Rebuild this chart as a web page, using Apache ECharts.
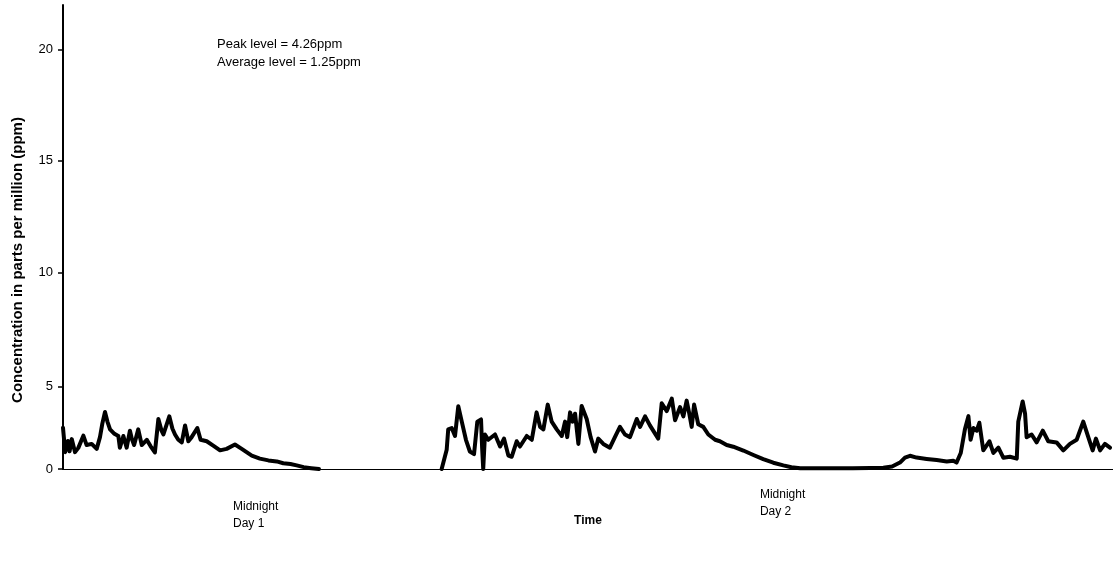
<!DOCTYPE html>
<html>
<head>
<meta charset="utf-8">
<script src="https://cdn.jsdelivr.net/npm/echarts@6/dist/echarts.min.js"></script>
<style>
html,body{margin:0;padding:0;background:#fff;}
#chart{width:1113px;height:563px;}
</style>
</head>
<body>
<div id="chart"></div>
<script>
// Hours since start of recording (start ~16:00, midnight Day 1 ~ hour 8)
const hours = [
0.00,0.10,0.22,0.30,0.40,0.55,0.70,0.93,1.08,1.31,1.54,1.69,1.80,1.92,2.03,2.15,2.35,2.53,2.60,2.76,2.91,3.06,3.15,3.25,3.44,3.60,3.83,4.00,4.20,4.36,4.50,4.59,4.86,5.00,5.12,5.27,5.43,5.58,5.73,5.88,6.14,6.29,6.57,6.90,7.18,7.48,7.86,8.17,8.63,9.00,9.39,9.77,10.07,10.40,10.68,11.00,11.35,11.70,
11.80,
17.31,17.54,17.61,17.77,17.92,18.07,18.23,18.42,18.60,18.79,18.94,19.11,19.16,19.21,19.26,19.29,19.44,19.75,19.98,20.16,20.36,20.51,20.74,20.89,21.20,21.43,21.65,21.81,21.96,22.16,22.34,22.57,22.80,22.95,23.05,23.18,23.30,23.41,23.56,23.71,23.94,24.12,24.32,24.47,24.70,25.00,25.23,25.46,25.69,25.92,26.23,26.38,26.61,26.83,27.21,27.37,27.60,27.83,27.98,28.21,28.36,28.51,28.63,28.74,28.85,29.04,29.27,29.50,29.81,30.03,30.34,30.64,31.10,31.56,32.01,32.47,32.93,33.30,33.70,34.50,35.30,36.10,36.90,37.50,37.90,38.26,38.49,38.72,39.02,39.48,39.94,40.40,40.70,40.85,41.04,41.23,41.39,41.49,41.62,41.77,41.89,42.07,42.35,42.53,42.76,42.99,43.29,43.60,43.67,43.87,43.98,44.05,44.28,44.51,44.79,45.04,45.42,45.73,46.03,46.34,46.64,46.87,47.07,47.22,47.41,47.63,47.86
];
// Concentration in ppm (null = no reading)
const ppm = [
2.50,1.02,1.70,1.07,1.81,1.02,1.28,2.02,1.45,1.52,1.22,1.93,2.76,3.45,2.87,2.40,2.13,2.00,1.29,2.00,1.29,2.32,1.81,1.45,2.40,1.45,1.77,1.39,1.00,3.03,2.34,2.09,3.19,2.45,2.09,1.77,1.61,2.64,1.68,1.93,2.48,1.77,1.68,1.39,1.13,1.22,1.48,1.22,0.81,0.63,0.52,0.46,0.35,0.30,0.22,0.11,0.05,0.00,
null,
0.00,1.17,2.40,2.48,2.00,3.80,2.87,1.77,1.06,0.90,2.87,3.00,1.28,0.00,0.00,2.09,1.77,2.09,1.36,1.84,0.81,0.74,1.68,1.36,2.00,1.77,3.43,2.55,2.40,3.90,2.87,2.40,2.00,2.87,1.93,3.43,2.87,3.35,1.52,3.82,3.03,1.93,1.06,1.84,1.52,1.29,1.93,2.55,2.09,1.93,3.03,2.55,3.19,2.64,1.84,3.98,3.51,4.26,2.95,3.75,3.19,4.14,3.35,2.55,3.90,2.71,2.55,2.09,1.77,1.68,1.45,1.35,1.12,0.85,0.60,0.38,0.22,0.11,0.05,0.05,0.04,0.05,0.06,0.08,0.15,0.39,0.69,0.80,0.69,0.61,0.54,0.46,0.50,0.39,0.97,2.40,3.20,1.77,2.48,2.32,2.80,1.13,1.68,0.97,1.29,0.68,0.74,0.63,2.87,4.09,3.35,1.93,2.09,1.61,2.32,1.68,1.61,1.13,1.52,1.77,2.87,1.93,1.13,1.84,1.13,1.52,1.29
];
// Tick labels of the (unevenly spaced) printed y axis and where they sit on the ppm scale
const yTickLabels = ['0', '5', '10', '15', '20'];
const yTickAt = [0, 5, 11.88, 18.67, 25.39];
const xLabelHours = [7.77, 31.86];
const xLabelTexts = ['Midnight\nDay 1', 'Midnight\nDay 2'];
const notes = ['Peak level = 4.26ppm', 'Average level = 1.25ppm'];
const yTitle = 'Concentration in parts per million (ppm)';
const xTitle = 'Time';

const seriesData = hours.map((h, i) => [h, ppm[i]]);

const chart = echarts.init(document.getElementById('chart'), null, {renderer: 'canvas'});
const FONT = 'Liberation Sans, Arial, sans-serif';
chart.setOption({
  backgroundColor: '#ffffff',
  animation: false,
  grid: {left: 63, right: 0, top: 5, bottom: 94, containLabel: false},
  xAxis: {
    type: 'value', min: 0, max: 48,
    name: xTitle, nameLocation: 'middle', nameGap: 46, nameMoveOverlap: false,
    nameTextStyle: {fontFamily: FONT, fontWeight: 'bold', fontSize: 12, color: '#000'},
    axisLine: {show: true, lineStyle: {color: '#000', width: 1.2}},
    axisTick: {show: false},
    splitLine: {show: false},
    axisLabel: {
      customValues: xLabelHours,
      align: 'left', margin: 17,
      formatter: function (v) {
        const i = xLabelHours.indexOf(v);
        const parts = xLabelTexts[i].split('\n');
        const body = '{n|' + parts[0] + '}\n{n|' + parts[1] + '}';
        return i === 0 ? '{sp| }\n' + body : body;
      },
      rich: {
        n: {fontFamily: FONT, fontSize: 12, lineHeight: 17, color: '#000'},
        sp: {fontFamily: FONT, fontSize: 4, lineHeight: 12, color: '#000'}
      }
    }
  },
  yAxis: {
    type: 'value', min: 0, max: 28.1,
    axisLine: {show: true, lineStyle: {color: '#000', width: 2}},
    axisTick: {show: true, length: 5, lineStyle: {color: '#000', width: 1.5}, customValues: yTickAt},
    splitLine: {show: false},
    axisLabel: {
      customValues: yTickAt, margin: 10, fontFamily: FONT, fontSize: 13, color: '#000',
      formatter: function (v) { return yTickLabels[yTickAt.indexOf(v)]; }
    }
  },
  graphic: [
    {type: 'text', left: 217, top: 38, style: {text: notes[0], font: '13px ' + FONT, fill: '#000'}},
    {type: 'text', left: 217, top: 56, style: {text: notes[1], font: '13px ' + FONT, fill: '#000'}},
    {type: 'text', x: 18, y: 260, rotation: Math.PI / 2,
     style: {text: yTitle, font: 'bold 15px ' + FONT, fill: '#000', align: 'center', verticalAlign: 'middle'}}
  ],
  series: [{
    type: 'line', data: seriesData, showSymbol: false, connectNulls: false,
    lineStyle: {color: '#000', width: 4, join: 'round', cap: 'round'},
    itemStyle: {color: '#000'}
  }]
});
</script>
</body>
</html>
